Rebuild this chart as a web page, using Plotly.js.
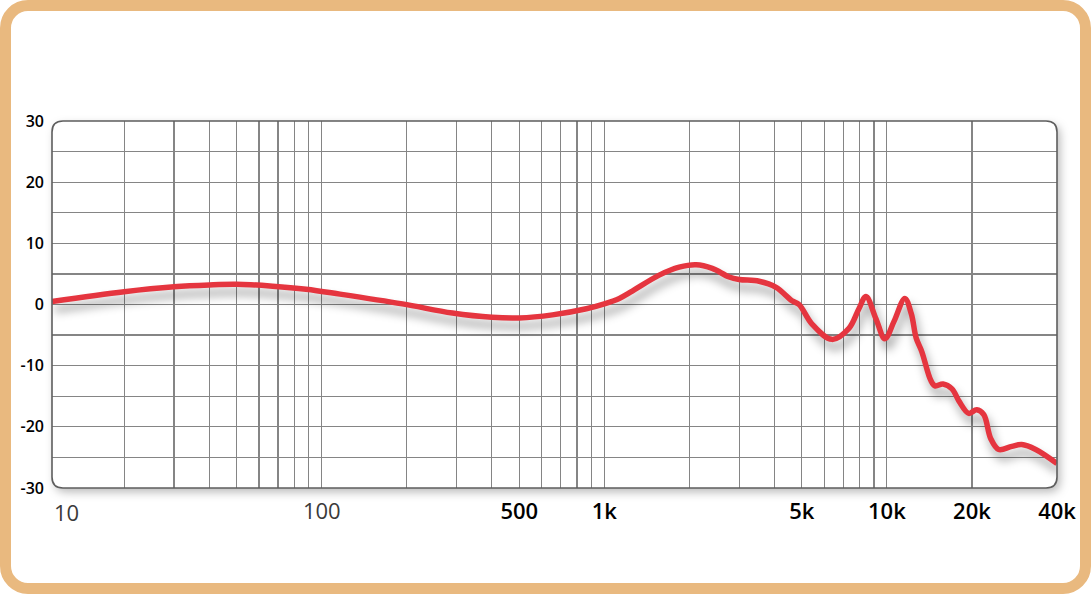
<!DOCTYPE html>
<html><head><meta charset="utf-8">
<script src="https://cdn.plot.ly/plotly-3.0.1.min.js"></script>
<style>
html,body{margin:0;padding:0;background:#fff;}
#wrap{position:relative;width:1091px;height:594px;overflow:hidden;background:#fff;}
#chart{position:absolute;left:0;top:0;width:1091px;height:594px;}
#frame{position:absolute;left:0;top:0;width:1091px;height:594px;box-sizing:border-box;border:11px solid #E9B97F;border-radius:28px;pointer-events:none;}
#chart .scatterlayer .js-line{filter:drop-shadow(3px 8px 5px rgba(0,0,0,0.38));}
#chart .layer-below .shapelayer path{filter:drop-shadow(3px 4px 5px rgba(0,0,0,0.28));}
</style></head><body>
<div id="wrap"><div id="chart"></div><div id="frame"></div></div>
<script>
// Frequency response data (Hz, dB)
const freqHz = [11.1, 20, 30, 40, 50, 67, 88, 116, 193, 290, 400, 500, 655, 864, 1000, 1130, 1256, 1564, 1841, 2114, 2410, 2766, 3000, 3530, 4055, 4615, 4887, 5433, 6393, 7340, 7962, 8433, 9143, 9840, 10590, 11580, 12200, 12700, 13290, 14300, 14800, 15800, 17000, 18000, 19490, 20800, 22030, 23300, 24870, 27670, 30000, 33630, 40000];
const levelDb = [0.5, 2.1, 2.9, 3.2, 3.3, 3.0, 2.5, 1.7, 0.1, -1.4, -2.1, -2.2, -1.7, -0.7, 0.1, 1.0, 2.2, 4.8, 6.1, 6.5, 5.9, 4.5, 4.1, 3.8, 2.8, 0.6, 0.0, -3.2, -5.7, -3.9, -0.7, 1.3, -2.3, -5.6, -2.8, 1.0, -1.5, -5.5, -7.7, -12.4, -13.3, -13.0, -13.8, -15.8, -17.8, -17.2, -18.0, -21.9, -23.7, -23.2, -22.9, -23.7, -26.0];

// Axis grid / tick definitions
const xGridHz = [20,30,40,50,60,70,80,90,100,200,300,400,500,600,700,800,900,1000,2000,3000,4000,5000,6000,7000,8000,9000,10000,20000,40000];
const xLabelHz = [100, 500, 1000, 5000, 10000, 20000, 40000];
const xLabelText = ['<span style="font-weight:400;color:#3a3a3a">100</span>', '500', '1k', '5k', '10k', '20k', '40k'];
const xLeftLabel = '10';
const yGridDb = [-30,-25,-20,-15,-10,-5,0,5,10,15,20,25,30];
const yLabelDb = [-30,-20,-10,0,10,20,30];

const xTickText = xGridHz.map(v => { const i = xLabelHz.indexOf(v); return i >= 0 ? xLabelText[i] : ''; });
const yTickText = yGridDb.map(v => yLabelDb.indexOf(v) >= 0 ? String(v) : '');

const gridColor = '#858585';
const rx = 11/1005, ry = 11/367;
const borderPath = `M ${rx},0 L ${1-rx},0 Q 1,0 1,${ry} L 1,${1-ry} Q 1,1 ${1-rx},1 L ${rx},1 Q 0,1 0,${1-ry} L 0,${ry} Q 0,0 ${rx},0 Z`;

const trace = {
  x: freqHz, y: levelDb, type: 'scatter', mode: 'lines',
  line: {color: '#E5353F', width: 5.5, shape: 'spline', smoothing: 1},
  hoverinfo: 'skip'
};

const layout = {
  width: 1091, height: 594,
  margin: {l: 52, r: 34, t: 121, b: 106, pad: 0},
  paper_bgcolor: '#ffffff', plot_bgcolor: 'rgba(0,0,0,0)',
  showlegend: false,
  font: {family: '"Open Sans", "DejaVu Sans", sans-serif', color: '#111'},
  xaxis: {
    type: 'log', range: [Math.log10(11.1), Math.log10(40000)],
    tickmode: 'array', tickvals: xGridHz, ticktext: xTickText,
    showgrid: true, gridcolor: gridColor, gridwidth: 1.2,
    zeroline: false, showline: false, ticks: '',
    tickfont: {size: 22, color: '#000', weight: 600, family: '"Open Sans", sans-serif'},
    ticklabelstandoff: 8, fixedrange: true
  },
  yaxis: {
    range: [-30, 30],
    tickmode: 'array', tickvals: yGridDb, ticktext: yTickText,
    showgrid: true, gridcolor: gridColor, gridwidth: 1.2,
    zeroline: false, showline: false, ticks: '',
    tickfont: {size: 16, color: '#000', weight: 600, family: '"Open Sans", sans-serif'},
    ticklabelstandoff: 7, fixedrange: true
  },
  shapes: [
    {type: 'path', xref: 'paper', yref: 'paper', path: borderPath, layer: 'below',
     fillcolor: '#ffffff', line: {color: 'rgba(0,0,0,0)', width: 0}},
    {type: 'path', xref: 'paper', yref: 'paper', path: borderPath, layer: 'above',
     fillcolor: 'rgba(0,0,0,0)', line: {color: '#5e5e5e', width: 1.6}}
  ],
  annotations: [
    {text: xLeftLabel, xref: 'paper', yref: 'paper', x: 0, y: 0, xanchor: 'left', yanchor: 'top',
     yshift: -7, showarrow: false, font: {size: 22, color: '#3a3a3a', weight: 400, family: '"Open Sans", sans-serif'}}
  ]
};

Plotly.newPlot('chart', [trace], layout, {staticPlot: true, displayModeBar: false});
</script></body></html>
